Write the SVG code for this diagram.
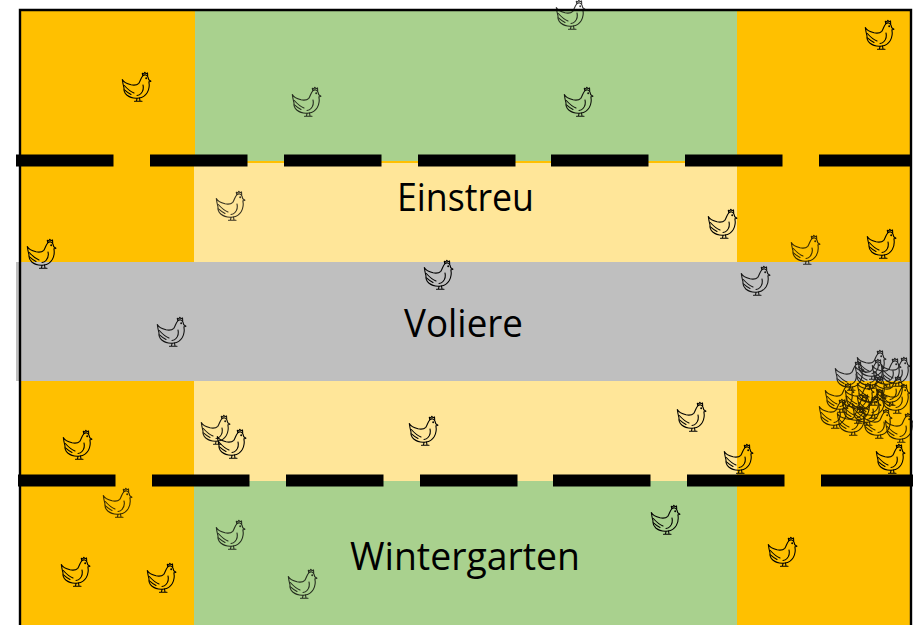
<svg xmlns="http://www.w3.org/2000/svg" width="913" height="625" viewBox="0 0 913 625">
<style>
.o{fill:#ffc000}.g{fill:#a9d18e}.y{fill:#ffe699}.v{fill:#bfbfbf}.d{fill:#000}
text{font-family:"Open Sans","Noto Sans","Liberation Sans",sans-serif;font-size:38px;fill:#000;text-anchor:middle}
.hs{fill:none;stroke:#000;stroke-width:1.1;stroke-linejoin:round;stroke-linecap:round}
.f{opacity:.78}.m{opacity:.9}
</style>
<defs>
<g id="hen" class="hs">
<path d="M0.300 7.500C1.500 10 5 11.800 9 12.800C12 13.400 15 13.200 16.800 11.300C18.300 9.500 18.800 5.800 20.800 3.800C22.600 2.300 25 2.800 25.800 4.800C26.300 5.800 26.500 6.800 26.800 7.800L28.900 9.300L26.900 9.900C27.600 13.500 27 17.500 25.300 20.500C23.600 23.300 20.500 25.600 17 26C12.500 26.600 7.500 25.300 4.800 23C2.600 21 1.600 18.500 2 15.800C1.200 13 .700 10.500 .300 7.500Z"/>
<path d="M20.700 3.500L20.300 1.300L21.800 1.900L22.800 .3L24 1.700L25.500 .9L25.700 4"/>
<path d="M21 13C21.800 16 21 19.200 19 21.500C18 22.700 16.500 23.300 15 23.500"/>
<path d="M2.300 13.500C5 16.500 8 19.500 12 21M2.500 17.800C5 20 7 21.500 9 22.500"/>
<path d="M15 26.300L14.500 29M17.500 26L18 29M12.500 29.200H16.500M16 29.200H20"/>
<circle cx="24.200" cy="6.300" r=".4" fill="#000"/>
</g>
</defs>
<g id="floor">
<rect class="o" x="20" y="10" width="891" height="615"/>
<rect class="g" x="195" y="11" width="542" height="150"/>
<rect class="y" x="194" y="163" width="543" height="99"/>
<rect class="y" x="194" y="381" width="543" height="100"/>
<rect class="g" x="194" y="481" width="543" height="144"/>
<rect id="voliere" class="v" x="16" y="262" width="895" height="119"/>
</g>
<g id="walls">
<path d="M20 625V10H911V625" fill="none" stroke="#000" stroke-width="2.400"/>
<g class="d">
<rect x="16" y="154.500" width="97.500" height="12"/><rect x="150" y="154.500" width="97.500" height="12"/><rect x="284" y="154.500" width="97.500" height="12"/><rect x="418" y="154.500" width="97.500" height="12"/><rect x="551" y="154.500" width="97.500" height="12"/><rect x="685" y="154.500" width="97.500" height="12"/><rect x="819" y="154.500" width="92" height="12"/>
<rect x="18" y="474.500" width="97.500" height="12"/><rect x="152" y="474.500" width="97.500" height="12"/><rect x="286" y="474.500" width="97.500" height="12"/><rect x="420" y="474.500" width="97.500" height="12"/><rect x="553" y="474.500" width="97.500" height="12"/><rect x="687" y="474.500" width="97.500" height="12"/><rect x="821" y="474.500" width="92" height="12"/>
</g>
</g>
<g id="labels">
<text x="465.500" y="211" textLength="137" lengthAdjust="spacingAndGlyphs">Einstreu</text>
<text x="463.500" y="336.500" textLength="119" lengthAdjust="spacingAndGlyphs">Voliere</text>
<text x="465" y="569.500" textLength="230" lengthAdjust="spacingAndGlyphs">Wintergarten</text>
</g>
<g id="hens">
<use href="#hen" x="556" y="0" class="f"/>
<use href="#hen" x="292" y="87" class="f"/>
<use href="#hen" x="564" y="87" class="m"/>
<use href="#hen" x="216" y="191" class="f"/>
<use href="#hen" x="708" y="209"/>
<use href="#hen" x="27" y="239"/>
<use href="#hen" x="791" y="235" class="f"/>
<use href="#hen" x="867" y="229"/>
<use href="#hen" x="424" y="260"/>
<use href="#hen" x="741" y="266" class="m"/>
<use href="#hen" x="157" y="317" class="m"/>
<use href="#hen" x="122" y="72"/>
<use href="#hen" x="865" y="20"/>
<use href="#hen" x="63" y="430"/>
<use href="#hen" x="201" y="415" class="m"/>
<use href="#hen" x="217" y="429"/>
<use href="#hen" x="409" y="416"/>
<use href="#hen" x="677" y="402"/>
<use href="#hen" x="724" y="444"/>
<use href="#hen" x="876" y="444"/>
<use href="#hen" x="103" y="488" class="f"/>
<use href="#hen" x="216" y="520" class="f"/>
<use href="#hen" x="651" y="505"/>
<use href="#hen" x="768" y="537"/>
<use href="#hen" x="61" y="557"/>
<use href="#hen" x="147" y="563"/>
<use href="#hen" x="288" y="569" class="f"/>
</g>
<g id="flock" opacity=".82">
<use href="#hen" x="857" y="350"/>
<use href="#hen" x="835" y="361"/>
<use href="#hen" x="872" y="358"/>
<use href="#hen" x="881" y="357"/>
<use href="#hen" x="855" y="359"/>
<use href="#hen" x="825" y="383"/>
<use href="#hen" x="819" y="399"/>
<use href="#hen" x="837" y="406"/>
<use href="#hen" x="863" y="409"/>
<use href="#hen" x="885" y="413"/>
<use href="#hen" x="881" y="384"/>
<use href="#hen" x="875" y="376"/>
<use href="#hen" x="845" y="383"/>
<use href="#hen" x="857" y="376"/>
<use href="#hen" x="857" y="389"/>
<use href="#hen" x="842" y="394"/>
<use href="#hen" x="852" y="396"/>
</g>
</svg>
